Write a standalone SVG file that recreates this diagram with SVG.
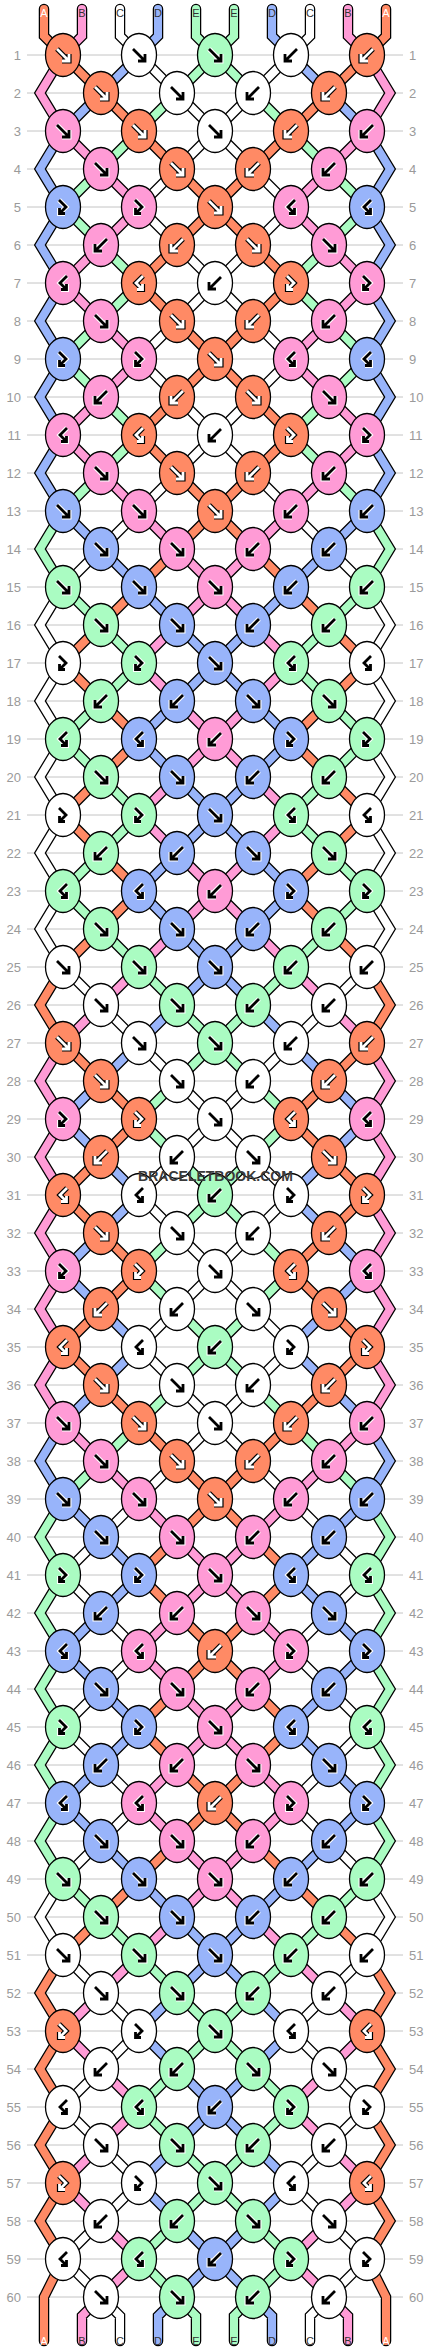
<svg xmlns="http://www.w3.org/2000/svg" xmlns:xlink="http://www.w3.org/1999/xlink" width="430" height="2352" viewBox="0 0 430 2352">
<style>
.gl{stroke:#c4c4c4;stroke-width:1;fill:none}
.nl{font-family:"Liberation Sans",Arial,sans-serif;font-size:13px;fill:#9a9a9a;text-anchor:end}
.nr{font-family:"Liberation Sans",Arial,sans-serif;font-size:13px;fill:#9a9a9a}
.so{fill:none;stroke:#000;stroke-width:10.5;stroke-linejoin:miter;stroke-linecap:round}
.si{fill:none;stroke-width:8;stroke-linejoin:miter;stroke-linecap:round}
.cO{stroke:#ff8a65}.cP{stroke:#ff9bd6}.cW{stroke:#fff}.cU{stroke:#98b4fa}.cG{stroke:#aafcc2}
.kn{stroke:#000;stroke-width:1.3}
.O{fill:#ff8a65}.P{fill:#ff9bd6}.W{fill:#fff}.U{fill:#98b4fa}.G{fill:#aafcc2}
.hw{fill:none;stroke:#fff;stroke-width:5}
.hb{fill:none;stroke:#000;stroke-width:2.8}
.lb{fill:none;stroke:#000;stroke-width:5.2}
.lw{fill:none;stroke:#fff;stroke-width:2.8}
.lab{font-family:"Liberation Sans",Arial,sans-serif;font-size:11px;fill:#333;text-anchor:middle}
.wm{font-family:"Liberation Sans",Arial,sans-serif;font-weight:bold;font-size:14px;fill:#3a3a3a;text-anchor:middle}
</style>
<defs>
<polyline id="sa" points="44,9 44,36 63,55 101,93 139,131 177,169 215,207 253,245 291,283 253,321 215,359 177,397 139,435 177,473 215,511 253,549 291,587 329,625 367,663 329,701 291,739 329,777 367,815 329,853 291,891 329,929 367,967 390,1005 367,1043 329,1081 291,1119 329,1157 367,1195 329,1233 291,1271 329,1309 367,1347 329,1385 291,1423 253,1461 215,1499 177,1537 139,1575 177,1613 215,1651 253,1689 291,1727 253,1765 215,1803 177,1841 139,1879 101,1917 63,1955 40,1993 63,2031 40,2069 63,2107 40,2145 63,2183 40,2221 63,2259 44,2297 44,2341"/>
<polyline id="sb" points="82,9 82,36 63,55 40,93 63,131 101,169 139,207 101,245 63,283 101,321 139,359 101,397 63,435 101,473 139,511 177,549 215,587 253,625 291,663 253,701 215,739 177,777 139,815 177,853 215,891 253,929 291,967 329,1005 367,1043 390,1081 367,1119 390,1157 367,1195 390,1233 367,1271 390,1309 367,1347 390,1385 367,1423 329,1461 291,1499 253,1537 215,1575 177,1613 139,1651 177,1689 215,1727 253,1765 291,1803 253,1841 215,1879 177,1917 139,1955 101,1993 63,2031 101,2069 139,2107 101,2145 63,2183 101,2221 139,2259 101,2297 82,2316 82,2341"/>
<polyline id="sc" points="120,9 120,36 139,55 177,93 215,131 253,169 291,207 253,245 215,283 177,321 139,359 177,397 215,435 253,473 291,511 329,549 367,587 390,625 367,663 390,701 367,739 390,777 367,815 390,853 367,891 390,929 367,967 329,1005 291,1043 253,1081 215,1119 177,1157 139,1195 177,1233 215,1271 253,1309 291,1347 253,1385 215,1423 177,1461 139,1499 101,1537 63,1575 101,1613 139,1651 101,1689 63,1727 101,1765 139,1803 101,1841 63,1879 40,1917 63,1955 101,1993 139,2031 101,2069 63,2107 101,2145 139,2183 101,2221 63,2259 101,2297 120,2316 120,2341"/>
<polyline id="sd" points="158,9 158,36 139,55 101,93 63,131 40,169 63,207 40,245 63,283 40,321 63,359 40,397 63,435 40,473 63,511 101,549 139,587 177,625 215,663 253,701 291,739 253,777 215,815 177,853 139,891 177,929 215,967 253,1005 291,1043 329,1081 367,1119 329,1157 291,1195 329,1233 367,1271 329,1309 291,1347 329,1385 367,1423 390,1461 367,1499 329,1537 291,1575 329,1613 367,1651 329,1689 291,1727 329,1765 367,1803 329,1841 291,1879 253,1917 215,1955 177,1993 139,2031 177,2069 215,2107 253,2145 291,2183 253,2221 215,2259 177,2297 158,2316 158,2341"/>
<polyline id="se" points="196,9 196,36 215,55 253,93 291,131 329,169 367,207 329,245 291,283 329,321 367,359 329,397 291,435 329,473 367,511 390,549 367,587 329,625 291,663 329,701 367,739 329,777 291,815 329,853 367,891 329,929 291,967 253,1005 215,1043 177,1081 139,1119 177,1157 215,1195 253,1233 291,1271 253,1309 215,1347 177,1385 139,1423 101,1461 63,1499 40,1537 63,1575 40,1613 63,1651 40,1689 63,1727 40,1765 63,1803 40,1841 63,1879 101,1917 139,1955 177,1993 215,2031 253,2069 291,2107 253,2145 215,2183 177,2221 139,2259 177,2297 196,2316 196,2341"/>
<path id="F" d="M-6-6L5.5 5.5M6-1V6H-1"/>
<path id="B" d="M6-6L-5.5 5.5M-6-1V6H1"/>
<path id="FB" d="M-4-7L3 0L-3.5 6.5M-3.5 1V6.5H2"/>
<path id="BF" d="M4-7L-3 0L3.5 6.5M3.5 1V6.5H-2"/>
<g id="Fd"><use href="#F" class="hw"/><use href="#F" class="hb"/></g>
<g id="Bd"><use href="#B" class="hw"/><use href="#B" class="hb"/></g>
<g id="FBd"><use href="#FB" class="hw"/><use href="#FB" class="hb"/></g>
<g id="BFd"><use href="#BF" class="hw"/><use href="#BF" class="hb"/></g>
<g id="Fl"><use href="#F" class="lb"/><use href="#F" class="lw"/></g>
<g id="Bl"><use href="#B" class="lb"/><use href="#B" class="lw"/></g>
<g id="FBl"><use href="#FB" class="lb"/><use href="#FB" class="lw"/></g>
<g id="BFl"><use href="#BF" class="lb"/><use href="#BF" class="lw"/></g>
<g id="kOF"><ellipse class="kn O" rx="17.5" ry="21.5"/><use href="#Fl"/></g>
<g id="kOB"><ellipse class="kn O" rx="17.5" ry="21.5"/><use href="#Bl"/></g>
<g id="kOFB"><ellipse class="kn O" rx="17.5" ry="21.5"/><use href="#FBl"/></g>
<g id="kOBF"><ellipse class="kn O" rx="17.5" ry="21.5"/><use href="#BFl"/></g>
<g id="kPF"><ellipse class="kn P" rx="17.5" ry="21.5"/><use href="#Fd"/></g>
<g id="kPB"><ellipse class="kn P" rx="17.5" ry="21.5"/><use href="#Bd"/></g>
<g id="kPFB"><ellipse class="kn P" rx="17.5" ry="21.5"/><use href="#FBd"/></g>
<g id="kPBF"><ellipse class="kn P" rx="17.5" ry="21.5"/><use href="#BFd"/></g>
<g id="kUF"><ellipse class="kn U" rx="17.5" ry="21.5"/><use href="#Fd"/></g>
<g id="kUB"><ellipse class="kn U" rx="17.5" ry="21.5"/><use href="#Bd"/></g>
<g id="kUFB"><ellipse class="kn U" rx="17.5" ry="21.5"/><use href="#FBd"/></g>
<g id="kUBF"><ellipse class="kn U" rx="17.5" ry="21.5"/><use href="#BFd"/></g>
<g id="kGF"><ellipse class="kn G" rx="17.5" ry="21.5"/><use href="#Fd"/></g>
<g id="kGB"><ellipse class="kn G" rx="17.5" ry="21.5"/><use href="#Bd"/></g>
<g id="kGFB"><ellipse class="kn G" rx="17.5" ry="21.5"/><use href="#FBd"/></g>
<g id="kGBF"><ellipse class="kn G" rx="17.5" ry="21.5"/><use href="#BFd"/></g>
<g id="kWF"><ellipse class="kn W" rx="17.5" ry="21.5"/><use href="#Fd"/></g>
<g id="kWB"><ellipse class="kn W" rx="17.5" ry="21.5"/><use href="#Bd"/></g>
<g id="kWFB"><ellipse class="kn W" rx="17.5" ry="21.5"/><use href="#FBd"/></g>
<g id="kWBF"><ellipse class="kn W" rx="17.5" ry="21.5"/><use href="#BFd"/></g>
</defs>
<rect width="430" height="2352" fill="#fff"/>
<g id="grid">
<path class="gl" d="M27 55H403M27 93H403M27 131H403M27 169H403M27 207H403M27 245H403M27 283H403M27 321H403M27 359H403M27 397H403M27 435H403M27 473H403M27 511H403M27 549H403M27 587H403M27 625H403M27 663H403M27 701H403M27 739H403M27 777H403M27 815H403M27 853H403M27 891H403M27 929H403M27 967H403M27 1005H403M27 1043H403M27 1081H403M27 1119H403M27 1157H403M27 1195H403M27 1233H403M27 1271H403M27 1309H403M27 1347H403M27 1385H403M27 1423H403M27 1461H403M27 1499H403M27 1537H403M27 1575H403M27 1613H403M27 1651H403M27 1689H403M27 1727H403M27 1765H403M27 1803H403M27 1841H403M27 1879H403M27 1917H403M27 1955H403M27 1993H403M27 2031H403M27 2069H403M27 2107H403M27 2145H403M27 2183H403M27 2221H403M27 2259H403M27 2297H403"/>
<g class="nl" transform="translate(0 4.6)">
<text x="21" y="55">1</text><text x="21" y="93">2</text><text x="21" y="131">3</text><text x="21" y="169">4</text><text x="21" y="207">5</text><text x="21" y="245">6</text><text x="21" y="283">7</text><text x="21" y="321">8</text><text x="21" y="359">9</text><text x="21" y="397">10</text><text x="21" y="435">11</text><text x="21" y="473">12</text><text x="21" y="511">13</text><text x="21" y="549">14</text><text x="21" y="587">15</text><text x="21" y="625">16</text><text x="21" y="663">17</text><text x="21" y="701">18</text><text x="21" y="739">19</text><text x="21" y="777">20</text><text x="21" y="815">21</text><text x="21" y="853">22</text><text x="21" y="891">23</text><text x="21" y="929">24</text><text x="21" y="967">25</text><text x="21" y="1005">26</text><text x="21" y="1043">27</text><text x="21" y="1081">28</text><text x="21" y="1119">29</text><text x="21" y="1157">30</text><text x="21" y="1195">31</text><text x="21" y="1233">32</text><text x="21" y="1271">33</text><text x="21" y="1309">34</text><text x="21" y="1347">35</text><text x="21" y="1385">36</text><text x="21" y="1423">37</text><text x="21" y="1461">38</text><text x="21" y="1499">39</text><text x="21" y="1537">40</text><text x="21" y="1575">41</text><text x="21" y="1613">42</text><text x="21" y="1651">43</text><text x="21" y="1689">44</text><text x="21" y="1727">45</text><text x="21" y="1765">46</text><text x="21" y="1803">47</text><text x="21" y="1841">48</text><text x="21" y="1879">49</text><text x="21" y="1917">50</text><text x="21" y="1955">51</text><text x="21" y="1993">52</text><text x="21" y="2031">53</text><text x="21" y="2069">54</text><text x="21" y="2107">55</text><text x="21" y="2145">56</text><text x="21" y="2183">57</text><text x="21" y="2221">58</text><text x="21" y="2259">59</text><text x="21" y="2297">60</text>
</g>
<g class="nr" transform="translate(0 4.6)">
<text x="409" y="55">1</text><text x="409" y="93">2</text><text x="409" y="131">3</text><text x="409" y="169">4</text><text x="409" y="207">5</text><text x="409" y="245">6</text><text x="409" y="283">7</text><text x="409" y="321">8</text><text x="409" y="359">9</text><text x="409" y="397">10</text><text x="409" y="435">11</text><text x="409" y="473">12</text><text x="409" y="511">13</text><text x="409" y="549">14</text><text x="409" y="587">15</text><text x="409" y="625">16</text><text x="409" y="663">17</text><text x="409" y="701">18</text><text x="409" y="739">19</text><text x="409" y="777">20</text><text x="409" y="815">21</text><text x="409" y="853">22</text><text x="409" y="891">23</text><text x="409" y="929">24</text><text x="409" y="967">25</text><text x="409" y="1005">26</text><text x="409" y="1043">27</text><text x="409" y="1081">28</text><text x="409" y="1119">29</text><text x="409" y="1157">30</text><text x="409" y="1195">31</text><text x="409" y="1233">32</text><text x="409" y="1271">33</text><text x="409" y="1309">34</text><text x="409" y="1347">35</text><text x="409" y="1385">36</text><text x="409" y="1423">37</text><text x="409" y="1461">38</text><text x="409" y="1499">39</text><text x="409" y="1537">40</text><text x="409" y="1575">41</text><text x="409" y="1613">42</text><text x="409" y="1651">43</text><text x="409" y="1689">44</text><text x="409" y="1727">45</text><text x="409" y="1765">46</text><text x="409" y="1803">47</text><text x="409" y="1841">48</text><text x="409" y="1879">49</text><text x="409" y="1917">50</text><text x="409" y="1955">51</text><text x="409" y="1993">52</text><text x="409" y="2031">53</text><text x="409" y="2069">54</text><text x="409" y="2107">55</text><text x="409" y="2145">56</text><text x="409" y="2183">57</text><text x="409" y="2221">58</text><text x="409" y="2259">59</text><text x="409" y="2297">60</text>
</g>
</g>
<g id="connectors">
<use href="#sa" class="so"/><use href="#sb" class="so"/><use href="#sc" class="so"/><use href="#sd" class="so"/><use href="#se" class="so"/>
<use href="#sa" class="so" transform="matrix(-1 0 0 1 430 0)"/><use href="#sb" class="so" transform="matrix(-1 0 0 1 430 0)"/><use href="#sc" class="so" transform="matrix(-1 0 0 1 430 0)"/><use href="#sd" class="so" transform="matrix(-1 0 0 1 430 0)"/><use href="#se" class="so" transform="matrix(-1 0 0 1 430 0)"/>
<use href="#sa" class="si cO"/><use href="#sb" class="si cP"/><use href="#sc" class="si cW"/><use href="#sd" class="si cU"/><use href="#se" class="si cG"/>
<use href="#sa" class="si cO" transform="matrix(-1 0 0 1 430 0)"/><use href="#sb" class="si cP" transform="matrix(-1 0 0 1 430 0)"/><use href="#sc" class="si cW" transform="matrix(-1 0 0 1 430 0)"/><use href="#sd" class="si cU" transform="matrix(-1 0 0 1 430 0)"/><use href="#se" class="si cG" transform="matrix(-1 0 0 1 430 0)"/>
</g>
<g id="labels">
<text class="lab" x="44" y="16.5" fill="#fff" style="fill:#fff">A</text><text class="lab" x="82" y="16.5">B</text><text class="lab" x="120" y="16.5">C</text><text class="lab" x="158" y="16.5">D</text><text class="lab" x="196" y="16.5">E</text><text class="lab" x="234" y="16.5">E</text><text class="lab" x="272" y="16.5">D</text><text class="lab" x="310" y="16.5">C</text><text class="lab" x="348" y="16.5">B</text><text class="lab" x="386" y="16.5" style="fill:#fff">A</text>
<text class="lab" x="44" y="2344.5" style="fill:#fff">A</text><text class="lab" x="82" y="2344.5">B</text><text class="lab" x="120" y="2344.5">C</text><text class="lab" x="158" y="2344.5">D</text><text class="lab" x="196" y="2344.5">E</text><text class="lab" x="234" y="2344.5">E</text><text class="lab" x="272" y="2344.5">D</text><text class="lab" x="310" y="2344.5">C</text><text class="lab" x="348" y="2344.5">B</text><text class="lab" x="386" y="2344.5" style="fill:#fff">A</text>
</g>
<g id="knots">
<g id="k1-1"><use href="#kOF" x="63" y="55"/></g><g id="k1-2"><use href="#kWF" x="139" y="55"/></g><g id="k1-3"><use href="#kGF" x="215" y="55"/></g><g id="k1-4"><use href="#kWB" x="291" y="55"/></g><g id="k1-5"><use href="#kOB" x="367" y="55"/></g>
<g id="k2-1"><use href="#kOF" x="101" y="93"/></g><g id="k2-2"><use href="#kWF" x="177" y="93"/></g><g id="k2-3"><use href="#kWB" x="253" y="93"/></g><g id="k2-4"><use href="#kOB" x="329" y="93"/></g>
<g id="k3-1"><use href="#kPF" x="63" y="131"/></g><g id="k3-2"><use href="#kOF" x="139" y="131"/></g><g id="k3-3"><use href="#kWF" x="215" y="131"/></g><g id="k3-4"><use href="#kOB" x="291" y="131"/></g><g id="k3-5"><use href="#kPB" x="367" y="131"/></g>
<g id="k4-1"><use href="#kPF" x="101" y="169"/></g><g id="k4-2"><use href="#kOF" x="177" y="169"/></g><g id="k4-3"><use href="#kOB" x="253" y="169"/></g><g id="k4-4"><use href="#kPB" x="329" y="169"/></g>
<g id="k5-1"><use href="#kUFB" x="63" y="207"/></g><g id="k5-2"><use href="#kPFB" x="139" y="207"/></g><g id="k5-3"><use href="#kOF" x="215" y="207"/></g><g id="k5-4"><use href="#kPBF" x="291" y="207"/></g><g id="k5-5"><use href="#kUBF" x="367" y="207"/></g>
<g id="k6-1"><use href="#kPB" x="101" y="245"/></g><g id="k6-2"><use href="#kOB" x="177" y="245"/></g><g id="k6-3"><use href="#kOF" x="253" y="245"/></g><g id="k6-4"><use href="#kPF" x="329" y="245"/></g>
<g id="k7-1"><use href="#kPBF" x="63" y="283"/></g><g id="k7-2"><use href="#kOBF" x="139" y="283"/></g><g id="k7-3"><use href="#kWB" x="215" y="283"/></g><g id="k7-4"><use href="#kOFB" x="291" y="283"/></g><g id="k7-5"><use href="#kPFB" x="367" y="283"/></g>
<g id="k8-1"><use href="#kPF" x="101" y="321"/></g><g id="k8-2"><use href="#kOF" x="177" y="321"/></g><g id="k8-3"><use href="#kOB" x="253" y="321"/></g><g id="k8-4"><use href="#kPB" x="329" y="321"/></g>
<g id="k9-1"><use href="#kUFB" x="63" y="359"/></g><g id="k9-2"><use href="#kPFB" x="139" y="359"/></g><g id="k9-3"><use href="#kOF" x="215" y="359"/></g><g id="k9-4"><use href="#kPBF" x="291" y="359"/></g><g id="k9-5"><use href="#kUBF" x="367" y="359"/></g>
<g id="k10-1"><use href="#kPB" x="101" y="397"/></g><g id="k10-2"><use href="#kOB" x="177" y="397"/></g><g id="k10-3"><use href="#kOF" x="253" y="397"/></g><g id="k10-4"><use href="#kPF" x="329" y="397"/></g>
<g id="k11-1"><use href="#kPBF" x="63" y="435"/></g><g id="k11-2"><use href="#kOBF" x="139" y="435"/></g><g id="k11-3"><use href="#kWB" x="215" y="435"/></g><g id="k11-4"><use href="#kOFB" x="291" y="435"/></g><g id="k11-5"><use href="#kPFB" x="367" y="435"/></g>
<g id="k12-1"><use href="#kPF" x="101" y="473"/></g><g id="k12-2"><use href="#kOF" x="177" y="473"/></g><g id="k12-3"><use href="#kOB" x="253" y="473"/></g><g id="k12-4"><use href="#kPB" x="329" y="473"/></g>
<g id="k13-1"><use href="#kUF" x="63" y="511"/></g><g id="k13-2"><use href="#kPF" x="139" y="511"/></g><g id="k13-3"><use href="#kOF" x="215" y="511"/></g><g id="k13-4"><use href="#kPB" x="291" y="511"/></g><g id="k13-5"><use href="#kUB" x="367" y="511"/></g>
<g id="k14-1"><use href="#kUF" x="101" y="549"/></g><g id="k14-2"><use href="#kPF" x="177" y="549"/></g><g id="k14-3"><use href="#kPB" x="253" y="549"/></g><g id="k14-4"><use href="#kUB" x="329" y="549"/></g>
<g id="k15-1"><use href="#kGF" x="63" y="587"/></g><g id="k15-2"><use href="#kUF" x="139" y="587"/></g><g id="k15-3"><use href="#kPF" x="215" y="587"/></g><g id="k15-4"><use href="#kUB" x="291" y="587"/></g><g id="k15-5"><use href="#kGB" x="367" y="587"/></g>
<g id="k16-1"><use href="#kGF" x="101" y="625"/></g><g id="k16-2"><use href="#kUF" x="177" y="625"/></g><g id="k16-3"><use href="#kUB" x="253" y="625"/></g><g id="k16-4"><use href="#kGB" x="329" y="625"/></g>
<g id="k17-1"><use href="#kWFB" x="63" y="663"/></g><g id="k17-2"><use href="#kGFB" x="139" y="663"/></g><g id="k17-3"><use href="#kUF" x="215" y="663"/></g><g id="k17-4"><use href="#kGBF" x="291" y="663"/></g><g id="k17-5"><use href="#kWBF" x="367" y="663"/></g>
<g id="k18-1"><use href="#kGB" x="101" y="701"/></g><g id="k18-2"><use href="#kUB" x="177" y="701"/></g><g id="k18-3"><use href="#kUF" x="253" y="701"/></g><g id="k18-4"><use href="#kGF" x="329" y="701"/></g>
<g id="k19-1"><use href="#kGBF" x="63" y="739"/></g><g id="k19-2"><use href="#kUBF" x="139" y="739"/></g><g id="k19-3"><use href="#kPB" x="215" y="739"/></g><g id="k19-4"><use href="#kUFB" x="291" y="739"/></g><g id="k19-5"><use href="#kGFB" x="367" y="739"/></g>
<g id="k20-1"><use href="#kGF" x="101" y="777"/></g><g id="k20-2"><use href="#kUF" x="177" y="777"/></g><g id="k20-3"><use href="#kUB" x="253" y="777"/></g><g id="k20-4"><use href="#kGB" x="329" y="777"/></g>
<g id="k21-1"><use href="#kWFB" x="63" y="815"/></g><g id="k21-2"><use href="#kGFB" x="139" y="815"/></g><g id="k21-3"><use href="#kUF" x="215" y="815"/></g><g id="k21-4"><use href="#kGBF" x="291" y="815"/></g><g id="k21-5"><use href="#kWBF" x="367" y="815"/></g>
<g id="k22-1"><use href="#kGB" x="101" y="853"/></g><g id="k22-2"><use href="#kUB" x="177" y="853"/></g><g id="k22-3"><use href="#kUF" x="253" y="853"/></g><g id="k22-4"><use href="#kGF" x="329" y="853"/></g>
<g id="k23-1"><use href="#kGBF" x="63" y="891"/></g><g id="k23-2"><use href="#kUBF" x="139" y="891"/></g><g id="k23-3"><use href="#kPB" x="215" y="891"/></g><g id="k23-4"><use href="#kUFB" x="291" y="891"/></g><g id="k23-5"><use href="#kGFB" x="367" y="891"/></g>
<g id="k24-1"><use href="#kGF" x="101" y="929"/></g><g id="k24-2"><use href="#kUF" x="177" y="929"/></g><g id="k24-3"><use href="#kUB" x="253" y="929"/></g><g id="k24-4"><use href="#kGB" x="329" y="929"/></g>
<g id="k25-1"><use href="#kWF" x="63" y="967"/></g><g id="k25-2"><use href="#kGF" x="139" y="967"/></g><g id="k25-3"><use href="#kUF" x="215" y="967"/></g><g id="k25-4"><use href="#kGB" x="291" y="967"/></g><g id="k25-5"><use href="#kWB" x="367" y="967"/></g>
<g id="k26-1"><use href="#kWF" x="101" y="1005"/></g><g id="k26-2"><use href="#kGF" x="177" y="1005"/></g><g id="k26-3"><use href="#kGB" x="253" y="1005"/></g><g id="k26-4"><use href="#kWB" x="329" y="1005"/></g>
<g id="k27-1"><use href="#kOF" x="63" y="1043"/></g><g id="k27-2"><use href="#kWF" x="139" y="1043"/></g><g id="k27-3"><use href="#kGF" x="215" y="1043"/></g><g id="k27-4"><use href="#kWB" x="291" y="1043"/></g><g id="k27-5"><use href="#kOB" x="367" y="1043"/></g>
<g id="k28-1"><use href="#kOF" x="101" y="1081"/></g><g id="k28-2"><use href="#kWF" x="177" y="1081"/></g><g id="k28-3"><use href="#kWB" x="253" y="1081"/></g><g id="k28-4"><use href="#kOB" x="329" y="1081"/></g>
<g id="k29-1"><use href="#kPFB" x="63" y="1119"/></g><g id="k29-2"><use href="#kOFB" x="139" y="1119"/></g><g id="k29-3"><use href="#kWF" x="215" y="1119"/></g><g id="k29-4"><use href="#kOBF" x="291" y="1119"/></g><g id="k29-5"><use href="#kPBF" x="367" y="1119"/></g>
<g id="k30-1"><use href="#kOB" x="101" y="1157"/></g><g id="k30-2"><use href="#kWB" x="177" y="1157"/></g><g id="k30-3"><use href="#kWF" x="253" y="1157"/></g><g id="k30-4"><use href="#kOF" x="329" y="1157"/></g>
<g id="k31-1"><use href="#kOBF" x="63" y="1195"/></g><g id="k31-2"><use href="#kWBF" x="139" y="1195"/></g><g id="k31-3"><use href="#kGB" x="215" y="1195"/></g><g id="k31-4"><use href="#kWFB" x="291" y="1195"/></g><g id="k31-5"><use href="#kOFB" x="367" y="1195"/></g>
<g id="k32-1"><use href="#kOF" x="101" y="1233"/></g><g id="k32-2"><use href="#kWF" x="177" y="1233"/></g><g id="k32-3"><use href="#kWB" x="253" y="1233"/></g><g id="k32-4"><use href="#kOB" x="329" y="1233"/></g>
<g id="k33-1"><use href="#kPFB" x="63" y="1271"/></g><g id="k33-2"><use href="#kOFB" x="139" y="1271"/></g><g id="k33-3"><use href="#kWF" x="215" y="1271"/></g><g id="k33-4"><use href="#kOBF" x="291" y="1271"/></g><g id="k33-5"><use href="#kPBF" x="367" y="1271"/></g>
<g id="k34-1"><use href="#kOB" x="101" y="1309"/></g><g id="k34-2"><use href="#kWB" x="177" y="1309"/></g><g id="k34-3"><use href="#kWF" x="253" y="1309"/></g><g id="k34-4"><use href="#kOF" x="329" y="1309"/></g>
<g id="k35-1"><use href="#kOBF" x="63" y="1347"/></g><g id="k35-2"><use href="#kWBF" x="139" y="1347"/></g><g id="k35-3"><use href="#kGB" x="215" y="1347"/></g><g id="k35-4"><use href="#kWFB" x="291" y="1347"/></g><g id="k35-5"><use href="#kOFB" x="367" y="1347"/></g>
<g id="k36-1"><use href="#kOF" x="101" y="1385"/></g><g id="k36-2"><use href="#kWF" x="177" y="1385"/></g><g id="k36-3"><use href="#kWB" x="253" y="1385"/></g><g id="k36-4"><use href="#kOB" x="329" y="1385"/></g>
<g id="k37-1"><use href="#kPF" x="63" y="1423"/></g><g id="k37-2"><use href="#kOF" x="139" y="1423"/></g><g id="k37-3"><use href="#kWF" x="215" y="1423"/></g><g id="k37-4"><use href="#kOB" x="291" y="1423"/></g><g id="k37-5"><use href="#kPB" x="367" y="1423"/></g>
<g id="k38-1"><use href="#kPF" x="101" y="1461"/></g><g id="k38-2"><use href="#kOF" x="177" y="1461"/></g><g id="k38-3"><use href="#kOB" x="253" y="1461"/></g><g id="k38-4"><use href="#kPB" x="329" y="1461"/></g>
<g id="k39-1"><use href="#kUF" x="63" y="1499"/></g><g id="k39-2"><use href="#kPF" x="139" y="1499"/></g><g id="k39-3"><use href="#kOF" x="215" y="1499"/></g><g id="k39-4"><use href="#kPB" x="291" y="1499"/></g><g id="k39-5"><use href="#kUB" x="367" y="1499"/></g>
<g id="k40-1"><use href="#kUF" x="101" y="1537"/></g><g id="k40-2"><use href="#kPF" x="177" y="1537"/></g><g id="k40-3"><use href="#kPB" x="253" y="1537"/></g><g id="k40-4"><use href="#kUB" x="329" y="1537"/></g>
<g id="k41-1"><use href="#kGFB" x="63" y="1575"/></g><g id="k41-2"><use href="#kUFB" x="139" y="1575"/></g><g id="k41-3"><use href="#kPF" x="215" y="1575"/></g><g id="k41-4"><use href="#kUBF" x="291" y="1575"/></g><g id="k41-5"><use href="#kGBF" x="367" y="1575"/></g>
<g id="k42-1"><use href="#kUB" x="101" y="1613"/></g><g id="k42-2"><use href="#kPB" x="177" y="1613"/></g><g id="k42-3"><use href="#kPF" x="253" y="1613"/></g><g id="k42-4"><use href="#kUF" x="329" y="1613"/></g>
<g id="k43-1"><use href="#kUBF" x="63" y="1651"/></g><g id="k43-2"><use href="#kPBF" x="139" y="1651"/></g><g id="k43-3"><use href="#kOB" x="215" y="1651"/></g><g id="k43-4"><use href="#kPFB" x="291" y="1651"/></g><g id="k43-5"><use href="#kUFB" x="367" y="1651"/></g>
<g id="k44-1"><use href="#kUF" x="101" y="1689"/></g><g id="k44-2"><use href="#kPF" x="177" y="1689"/></g><g id="k44-3"><use href="#kPB" x="253" y="1689"/></g><g id="k44-4"><use href="#kUB" x="329" y="1689"/></g>
<g id="k45-1"><use href="#kGFB" x="63" y="1727"/></g><g id="k45-2"><use href="#kUFB" x="139" y="1727"/></g><g id="k45-3"><use href="#kPF" x="215" y="1727"/></g><g id="k45-4"><use href="#kUBF" x="291" y="1727"/></g><g id="k45-5"><use href="#kGBF" x="367" y="1727"/></g>
<g id="k46-1"><use href="#kUB" x="101" y="1765"/></g><g id="k46-2"><use href="#kPB" x="177" y="1765"/></g><g id="k46-3"><use href="#kPF" x="253" y="1765"/></g><g id="k46-4"><use href="#kUF" x="329" y="1765"/></g>
<g id="k47-1"><use href="#kUBF" x="63" y="1803"/></g><g id="k47-2"><use href="#kPBF" x="139" y="1803"/></g><g id="k47-3"><use href="#kOB" x="215" y="1803"/></g><g id="k47-4"><use href="#kPFB" x="291" y="1803"/></g><g id="k47-5"><use href="#kUFB" x="367" y="1803"/></g>
<g id="k48-1"><use href="#kUF" x="101" y="1841"/></g><g id="k48-2"><use href="#kPF" x="177" y="1841"/></g><g id="k48-3"><use href="#kPB" x="253" y="1841"/></g><g id="k48-4"><use href="#kUB" x="329" y="1841"/></g>
<g id="k49-1"><use href="#kGF" x="63" y="1879"/></g><g id="k49-2"><use href="#kUF" x="139" y="1879"/></g><g id="k49-3"><use href="#kPF" x="215" y="1879"/></g><g id="k49-4"><use href="#kUB" x="291" y="1879"/></g><g id="k49-5"><use href="#kGB" x="367" y="1879"/></g>
<g id="k50-1"><use href="#kGF" x="101" y="1917"/></g><g id="k50-2"><use href="#kUF" x="177" y="1917"/></g><g id="k50-3"><use href="#kUB" x="253" y="1917"/></g><g id="k50-4"><use href="#kGB" x="329" y="1917"/></g>
<g id="k51-1"><use href="#kWF" x="63" y="1955"/></g><g id="k51-2"><use href="#kGF" x="139" y="1955"/></g><g id="k51-3"><use href="#kUF" x="215" y="1955"/></g><g id="k51-4"><use href="#kGB" x="291" y="1955"/></g><g id="k51-5"><use href="#kWB" x="367" y="1955"/></g>
<g id="k52-1"><use href="#kWF" x="101" y="1993"/></g><g id="k52-2"><use href="#kGF" x="177" y="1993"/></g><g id="k52-3"><use href="#kGB" x="253" y="1993"/></g><g id="k52-4"><use href="#kWB" x="329" y="1993"/></g>
<g id="k53-1"><use href="#kOFB" x="63" y="2031"/></g><g id="k53-2"><use href="#kWFB" x="139" y="2031"/></g><g id="k53-3"><use href="#kGF" x="215" y="2031"/></g><g id="k53-4"><use href="#kWBF" x="291" y="2031"/></g><g id="k53-5"><use href="#kOBF" x="367" y="2031"/></g>
<g id="k54-1"><use href="#kWB" x="101" y="2069"/></g><g id="k54-2"><use href="#kGB" x="177" y="2069"/></g><g id="k54-3"><use href="#kGF" x="253" y="2069"/></g><g id="k54-4"><use href="#kWF" x="329" y="2069"/></g>
<g id="k55-1"><use href="#kWBF" x="63" y="2107"/></g><g id="k55-2"><use href="#kGBF" x="139" y="2107"/></g><g id="k55-3"><use href="#kUB" x="215" y="2107"/></g><g id="k55-4"><use href="#kGFB" x="291" y="2107"/></g><g id="k55-5"><use href="#kWFB" x="367" y="2107"/></g>
<g id="k56-1"><use href="#kWF" x="101" y="2145"/></g><g id="k56-2"><use href="#kGF" x="177" y="2145"/></g><g id="k56-3"><use href="#kGB" x="253" y="2145"/></g><g id="k56-4"><use href="#kWB" x="329" y="2145"/></g>
<g id="k57-1"><use href="#kOFB" x="63" y="2183"/></g><g id="k57-2"><use href="#kWFB" x="139" y="2183"/></g><g id="k57-3"><use href="#kGF" x="215" y="2183"/></g><g id="k57-4"><use href="#kWBF" x="291" y="2183"/></g><g id="k57-5"><use href="#kOBF" x="367" y="2183"/></g>
<g id="k58-1"><use href="#kWB" x="101" y="2221"/></g><g id="k58-2"><use href="#kGB" x="177" y="2221"/></g><g id="k58-3"><use href="#kGF" x="253" y="2221"/></g><g id="k58-4"><use href="#kWF" x="329" y="2221"/></g>
<g id="k59-1"><use href="#kWBF" x="63" y="2259"/></g><g id="k59-2"><use href="#kGBF" x="139" y="2259"/></g><g id="k59-3"><use href="#kUB" x="215" y="2259"/></g><g id="k59-4"><use href="#kGFB" x="291" y="2259"/></g><g id="k59-5"><use href="#kWFB" x="367" y="2259"/></g>
<g id="k60-1"><use href="#kWF" x="101" y="2297"/></g><g id="k60-2"><use href="#kGF" x="177" y="2297"/></g><g id="k60-3"><use href="#kGB" x="253" y="2297"/></g><g id="k60-4"><use href="#kWB" x="329" y="2297"/></g>
</g>
<text class="wm" x="215.5" y="1180.7">BRACELETBOOK.COM</text>
</svg>
